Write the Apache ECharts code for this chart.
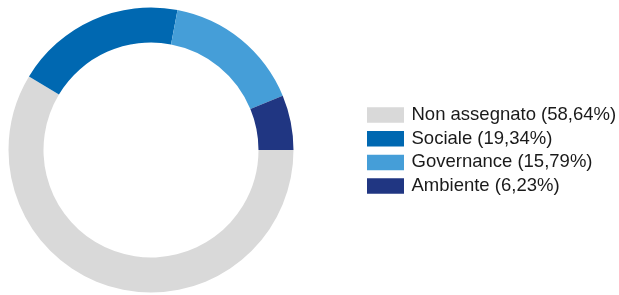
<!DOCTYPE html>
<html><head><meta charset="utf-8">
<script src="https://cdn.jsdelivr.net/npm/echarts@6/dist/echarts.min.js"></script>
<style>html,body{margin:0;padding:0;background:#fff}#c{width:619px;height:295px}</style>
</head><body><div id="c"></div>
<script>
const categories = ["Non assegnato", "Sociale", "Governance", "Ambiente"];
const values = [58.64, 19.34, 15.79, 6.23];
const colors = ["#d9d9d9", "#0068b1", "#459ed8", "#203682"];

const fmt = v => v.toFixed(2).replace('.', ',');
const labelOf = {};
categories.forEach((c, i) => { labelOf[c] = c + " (" + fmt(values[i]) + "%)"; });

const chart = echarts.init(document.getElementById('c'), null, {renderer: 'canvas'});
chart.setOption({
  animation: false,
  backgroundColor: '#ffffff',
  color: colors,
  legend: {
    orient: 'vertical',
    left: 367,
    top: 105.5,
    padding: 0,
    itemWidth: 37,
    itemHeight: 15.5,
    itemGap: 4.7,
    icon: 'rect',
    textStyle: {fontFamily: 'Liberation Sans, Arial, sans-serif', fontSize: 18.5, color: '#1a1a1a', lineHeight: 17.5, padding: [0,0,0,2.5]},
    formatter: name => labelOf[name],
    data: categories
  },
  series: [{
    type: 'pie',
    center: [151, 150],
    radius: [107.5, 142.5],
    startAngle: 0,
    clockwise: true,
    label: {show: false},
    labelLine: {show: false},
    emphasis: {disabled: true},
    itemStyle: {borderWidth: 0},
    data: categories.map((c, i) => ({name: c, value: values[i]}))
  }]
});
</script></body></html>
